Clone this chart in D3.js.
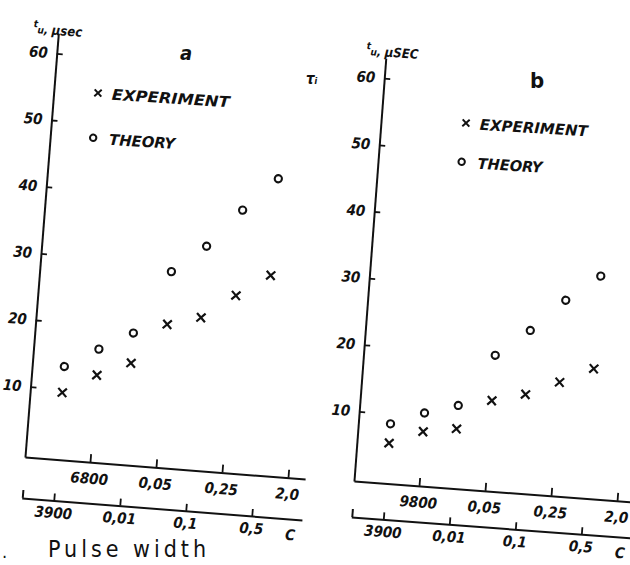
<!DOCTYPE html>
<html><head><meta charset="utf-8">
<script src="https://cdn.jsdelivr.net/npm/d3@7"></script>
<style>
body{margin:0;background:#fff}
svg{display:block;background:#fff}
text{font-family:"DejaVu Sans Condensed","DejaVu Sans",sans-serif;fill:#111}
</style></head><body>
<svg id="c" width="630" height="565"></svg>
<script>
// ---- data ----
const categoriesA = ["3900","6800","0,01","0,05","0,1","0,25","0,5","2,0"];
const categoriesB = ["3900","9800","0,01","0,05","0,1","0,25","0,5","2,0"];
const upperAxisIdx = [1,3,5,7];
const lowerAxisIdx = [0,2,4,6];
const pointIdx = [0,1,2,3,4,5,6];
const yTicks = [10,20,30,40,50,60];
const experimentA = [9.5, 12.5, 14.7, 20.9, 22.3, 26.0, 29.4];
const theoryA     = [13.4, 16.4, 19.2, 28.8, 33.0, 38.8, 43.9];
const experimentB = [5.6, 7.7, 8.5, 13.1, 14.4, 16.6, 19.0];
const theoryB     = [8.5, 10.5, 12.0, 19.9, 24.0, 28.9, 32.9];
const legendLabels = ["EXPERIMENT","THEORY"];

const ink = "#111";
const svg = d3.select("#c");

function panel(p){
  const g = svg.append("g").attr("transform",`translate(${p.ox},${p.oy}) rotate(${p.angle})`);
  const x = d3.scaleLinear().domain([-0.97, p.xMax]).range([0, 33.1*(p.xMax+0.97)]);
  const y = d3.scaleLinear().domain([p.y0, 63]).range([0, -p.yLen]);
  const styleAxis = sel => {
    sel.attr("font-family",'"DejaVu Sans Condensed","DejaVu Sans",sans-serif')
      .attr("font-size",p.tickSize).attr("font-style","italic").attr("font-weight","bold");
    sel.select(".domain").attr("stroke",ink).attr("stroke-width",2);
    sel.selectAll(".tick line").attr("stroke",ink).attr("stroke-width",1.8);
    sel.selectAll(".tick text").attr("fill",ink);
  };
  // upper category axis
  g.append("g")
    .call(d3.axisBottom(x).tickValues(upperAxisIdx).tickFormat(i=>p.cats[i])
      .tickSizeInner(-8).tickSizeOuter(0).tickPadding(11)).call(styleAxis);
  // lower category axis
  const lo = g.append("g").attr("transform",`translate(0,${p.low})`)
    .call(d3.axisBottom(x).tickValues(lowerAxisIdx).tickFormat(i=>p.cats[i])
      .tickSizeInner(-7).tickSizeOuter(0).tickPadding(7)).call(styleAxis);
  lo.append("line").attr("x1",x(-0.97)+1).attr("x2",x(-0.97)+1).attr("y1",0).attr("y2",-8)
    .attr("stroke",ink).attr("stroke-width",2);
  lo.append("text").attr("x",x(7.2)).attr("y",21).attr("text-anchor","middle")
    .attr("font-size",15).attr("font-style","italic").attr("font-weight","bold").text("C");
  // y axis
  g.append("g")
    .call(d3.axisLeft(y).tickValues(yTicks).tickSizeInner(-6).tickSizeOuter(0).tickPadding(9))
    .call(styleAxis);
  // theory circles
  g.append("g").selectAll("circle").data(pointIdx).join("circle")
    .attr("cx",i=>x(i)).attr("cy",i=>y(p.theo[i])).attr("r",3.6)
    .attr("fill","none").attr("stroke",ink).attr("stroke-width",2.1);
  // experiment crosses
  const s = 4.3;
  g.append("g").selectAll("path").data(pointIdx).join("path")
    .attr("d",i=>{const cx=x(i), cy=y(p.exp[i]);
      return `M${cx-s},${cy-s}L${cx+s},${cy+s}M${cx+s},${cy-s}L${cx-s},${cy+s}`;})
    .attr("stroke",ink).attr("stroke-width",2.2).attr("fill","none");

  // annotations (screen coordinates, slightly rotated like the scan)
  const t = svg.append("g");
  const tt = t.append("text").attr("x",p.title[0]).attr("y",p.title[1])
    .attr("transform",`rotate(${p.angle},${p.title[0]},${p.title[1]})`)
    .attr("font-style","italic").attr("font-weight","bold");
  tt.append("tspan").attr("font-size",10).attr("dy",-6).text("t");
  tt.append("tspan").attr("font-size",10).attr("dy",6).text("u");
  tt.append("tspan").attr("font-size",12).text(", ");
  tt.append("tspan").attr("font-size",13).text(p.unit);
  t.append("text").attr("x",p.letter[0]).attr("y",p.letter[1]).attr("text-anchor","middle")
    .attr("font-size",p.letterSize).attr("font-style",p.italicLetter?"italic":"normal")
    .attr("font-weight","bold").text(p.name);
  const lg = t.append("g").attr("transform",`rotate(${p.angle*0.8},${p.leg[0]},${p.leg[1]})`);
  const [lx,ly] = p.leg;
  lg.append("path").attr("d",`M${lx-3.5},${ly-3.5}L${lx+3.5},${ly+3.5}M${lx+3.5},${ly-3.5}L${lx-3.5},${ly+3.5}`)
    .attr("stroke",ink).attr("stroke-width",2);
  lg.append("circle").attr("cx",lx-2).attr("cy",ly+p.legGap).attr("r",3.2)
    .attr("fill","none").attr("stroke",ink).attr("stroke-width",2);
  lg.append("text").attr("x",lx+14).attr("y",ly+6).attr("font-size",15)
    .attr("font-style","italic").attr("font-weight","bold")
    .attr("textLength",p.legW[0]).attr("lengthAdjust","spacingAndGlyphs").text(legendLabels[0]);
  lg.append("text").attr("x",lx+14).attr("y",ly+p.legGap+6).attr("font-size",15)
    .attr("font-style","italic").attr("font-weight","bold")
    .attr("textLength",p.legW[1]).attr("lengthAdjust","spacingAndGlyphs").text(legendLabels[1]);
}

panel({ox:25, oy:457, angle:4.5, xMax:7.52, y0:-0.55, yLen:425, low:41,
  cats:categoriesA, exp:experimentA, theo:theoryA, italicLetter:true, tickSize:15,
  title:[33,33], unit:"μsec", letter:[186,60], letterSize:20, name:"a",
  leg:[98,93], legGap:45, legW:[118,66]});
panel({ox:354, oy:481, angle:4.3, xMax:9.5, y0:-0.44, yLen:424, low:36,
  cats:categoriesB, exp:experimentB, theo:theoryB, italicLetter:false, tickSize:15,
  title:[366,55], unit:"μSEC", letter:[537,88], letterSize:22, name:"b",
  leg:[466,123], legGap:39, legW:[108,65]});

// stray mark & caption fragment from the scan
svg.append("text").attr("x",306).attr("y",84).attr("font-size",15)
  .attr("font-style","italic").attr("font-weight","bold").text("τᵢ");
svg.append("text").attr("x",2).attr("y",558).attr("font-size",18)
  .attr("font-family","Liberation Mono, monospace").text(".");
svg.append("text").attr("x",48).attr("y",557).attr("font-size",23)
  .attr("letter-spacing",4).attr("font-family","Liberation Mono, monospace").text("Pulse width");
</script>
</body></html>
